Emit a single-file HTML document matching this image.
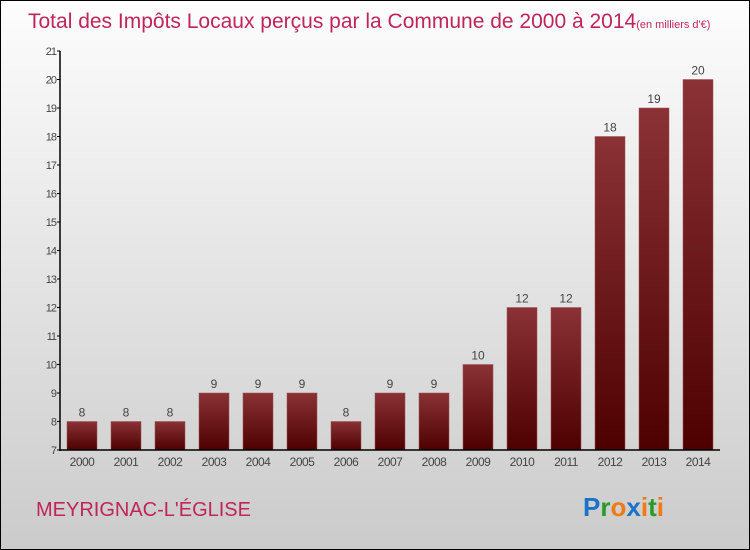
<!DOCTYPE html>
<html><head><meta charset="utf-8"><style>
body{margin:0;}
#wrap{width:748px;height:548px;border:1px solid #000;background:linear-gradient(#fdfdfd,#cbcbcb);position:relative;overflow:hidden;font-family:"Liberation Sans",sans-serif;}
</style></head><body>
<div id="wrap">
<svg id="chart" width="748" height="548">
<defs><linearGradient id="bg" x1="0" y1="0" x2="0" y2="1"><stop offset="0" stop-color="#8a3236"/><stop offset="1" stop-color="#4e0000"/></linearGradient></defs>
<text x="27" y="27" font-size="21" fill="#c0255a">Total des Impôts Locaux perçus par la Commune de 2000 à 2014<tspan font-size="11">(en milliers d'€)</tspan></text>
<g id="grid"></g><g id="bars"></g>
<text x="35" y="515" font-size="20" fill="#c0255a">MEYRIGNAC-L'ÉGLISE</text>
<text x="582" y="515" font-size="26" font-weight="bold"><tspan fill="#1a73c8">P</tspan><tspan fill="#2a9a2a">r</tspan><tspan fill="#f07a10">o</tspan><tspan fill="#1a73c8">x</tspan><tspan fill="#f07a10">i</tspan><tspan fill="#2a9a2a">t</tspan><tspan fill="#f07a10">i</tspan></text>
</svg></div>
<script>
const categories=["2000","2001","2002","2003","2004","2005","2006","2007","2008","2009","2010","2011","2012","2013","2014"];
const values=[8,8,8,9,9,9,8,9,9,10,12,12,18,19,20];
const yTicks=[7,8,9,10,11,12,13,14,15,16,17,18,19,20,21];
const NS="http://www.w3.org/2000/svg";
const svg=document.getElementById('chart');
const x0=59,x1=719,y0=449,y1=50,ymin=7,ymax=21;
const y=v=>y0-(v-ymin)/(ymax-ymin)*(y0-y1);
const step=44;const xc=i=>x0+22+i*step;
function mk(t,a,p){const e=document.createElementNS(NS,t);for(const k in a)e.setAttribute(k,a[k]);(p||svg).appendChild(e);return e;}
const g=document.getElementById('grid'),b=document.getElementById('bars');
yTicks.forEach(v=>{
 const l=mk('line',{x1:x0-3,x2:x0,y1:y(v),y2:y(v),stroke:'#000'},g);
 
 
 const t=mk('text',{x:x0-4,y:y(v)+4,'font-size':11,fill:'#444','text-anchor':'end','letter-spacing':'-1'},g);t.textContent=v;
 
 
});
values.forEach((v,i)=>{
 const r=mk('rect',{x:xc(i)-15,y:y(v),width:30,height:y0-y(v),fill:'url(#bg)',stroke:'#a05055','stroke-width':0.5},b);
 
 
 const t=mk('text',{x:xc(i),y:y(v)-5,'font-size':12,fill:'#444','text-anchor':'middle'},b);t.textContent=v;
 
 
 const c=mk('text',{x:xc(i),y:y0+16,'font-size':12,fill:'#444','text-anchor':'middle','letter-spacing':'-0.5'},b);c.textContent=categories[i];
 
 
});
const ya=mk('line',{x1:x0,x2:x0,y1:y1,y2:y0+1,stroke:'#000','stroke-width':1.5});


const xa=mk('line',{x1:x0,x2:x1,y1:y0,y2:y0,stroke:'#000','stroke-width':1.5});


</script>
</body></html>
